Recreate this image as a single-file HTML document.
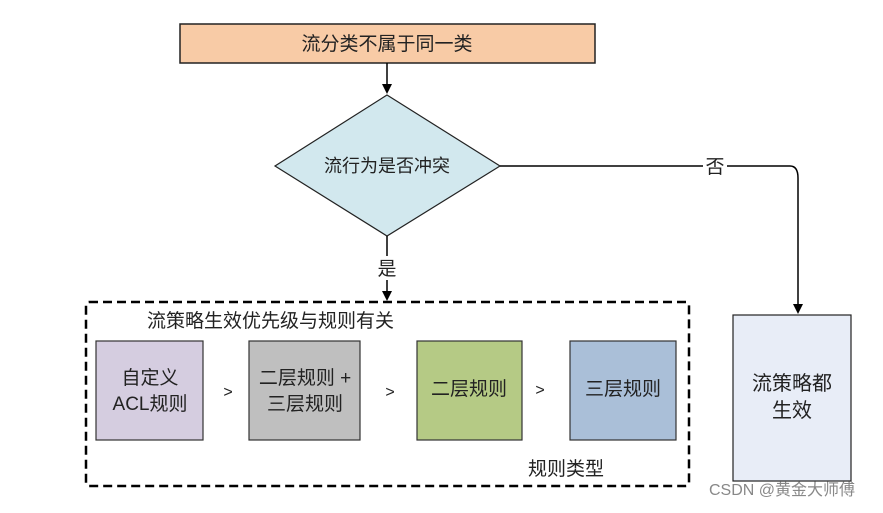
<!DOCTYPE html>
<html><head><meta charset="utf-8"><style>
body{margin:0;width:883px;height:508px;background:#fff;overflow:hidden}
svg text{font-family:"Liberation Sans","Noto Sans CJK SC",sans-serif;fill:#222}
</style></head><body>
<svg width="883" height="508" viewBox="0 0 883 508" xmlns="http://www.w3.org/2000/svg">
<rect x="180" y="24" width="415" height="39" fill="#f8cba6" stroke="#222" stroke-width="1.5"/>
<text x="387" y="50" font-size="19" text-anchor="middle">流分类不属于同一类</text>
<line x1="387" y1="63" x2="387" y2="88" stroke="#000" stroke-width="1.5"/>
<path d="M382,84 L392,84 L387,94z" fill="#000"/>
<polygon points="387,95 500,166 387,236 275,166" fill="#d2e8ee" stroke="#222" stroke-width="1.2"/>
<text x="387" y="172" font-size="18" text-anchor="middle">流行为是否冲突</text>
<line x1="387" y1="236" x2="387" y2="295" stroke="#000" stroke-width="1.5"/>
<rect x="376" y="256" width="22" height="24" fill="#fff"/>
<text x="387" y="275" font-size="19" text-anchor="middle">是</text>
<path d="M382,291 L392,291 L387,301z" fill="#000"/>
<path d="M500,166 L790,166 Q798,166 798,178 L798,308" fill="none" stroke="#000" stroke-width="1.5"/>
<rect x="703" y="154" width="24" height="24" fill="#fff"/>
<text x="715" y="173" font-size="19" text-anchor="middle">否</text>
<path d="M793,304 L803,304 L798,314z" fill="#000"/>
<rect x="733" y="315" width="118" height="166" fill="#e8edf7" stroke="#222" stroke-width="1.2"/>
<text x="792" y="390" font-size="20" text-anchor="middle">流策略都</text>
<text x="792" y="417" font-size="20" text-anchor="middle">生效</text>
<rect x="86" y="302" width="603" height="184" rx="3" fill="none" stroke="#000" stroke-width="2.5" stroke-dasharray="9,5"/>
<text x="147" y="327" font-size="19">流策略生效优先级与规则有关</text>
<rect x="96" y="341" width="107" height="99" fill="#d5cde0" stroke="#333" stroke-width="1.2"/>
<text x="150" y="384" font-size="19" text-anchor="middle">自定义</text>
<text x="150" y="410" font-size="19" text-anchor="middle">ACL规则</text>
<text x="228" y="397" font-size="16" text-anchor="middle">&gt;</text>
<rect x="249" y="341" width="111" height="99" fill="#bfbfbf" stroke="#333" stroke-width="1.2"/>
<text x="305" y="384" font-size="19" text-anchor="middle">二层规则 +</text>
<text x="305" y="410" font-size="19" text-anchor="middle">三层规则</text>
<text x="390" y="397" font-size="16" text-anchor="middle">&gt;</text>
<rect x="417" y="341" width="105" height="99" fill="#b5ca85" stroke="#333" stroke-width="1.2"/>
<text x="469" y="395" font-size="19" text-anchor="middle">二层规则</text>
<text x="540" y="395" font-size="16" text-anchor="middle">&gt;</text>
<rect x="570" y="341" width="106" height="99" fill="#aabfd8" stroke="#333" stroke-width="1.2"/>
<text x="623" y="395" font-size="19" text-anchor="middle">三层规则</text>
<text x="566" y="475" font-size="19" text-anchor="middle">规则类型</text>
<text x="782" y="495" font-size="16" text-anchor="middle" style="fill:#888">CSDN @黄金大师傅</text>
</svg>
</body></html>
